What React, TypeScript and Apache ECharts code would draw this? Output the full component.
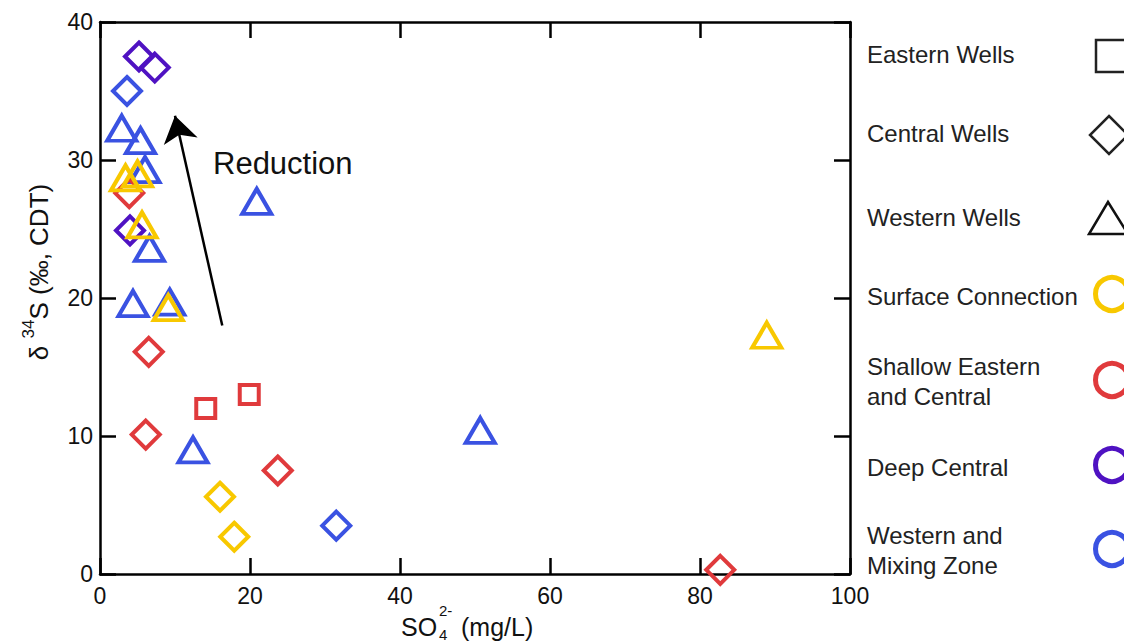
import React, { useEffect, useRef } from "react";
import * as echarts from "echarts";

// Axis setup
const xTicks = { min: 0, max: 100, interval: 20 };
const yTicks = { min: 0, max: 40, interval: 10 };

// Colours of groups
const colSurface = "#f8c800";
const colShallow = "#e03a3c";
const colDeep = "#4f12c2";
const colWestMix = "#3a52e2";

// Eastern wells (squares)
const eastShallow = [
  [14.1, 12.0],
  [19.9, 13.0],
];

// Central wells (diamonds)
const centralSurface = [
  [16.0, 5.6],
  [17.9, 2.7],
];
const centralShallow = [
  [3.9, 27.6],
  [6.5, 16.1],
  [6.1, 10.1],
  [23.7, 7.5],
  [82.7, 0.3],
];
const centralDeep = [
  [5.2, 37.5],
  [7.3, 36.7],
  [4.0, 24.9],
];
const centralWestMix = [
  [3.6, 35.0],
  [31.5, 3.5],
];

// Western wells (triangles)
const westernSurface = [
  [3.4, 28.7],
  [5.0, 29.0],
  [5.6, 25.3],
  [9.1, 19.3],
  [88.9, 17.3],
];
const westernWestMix = [
  [2.9, 32.3],
  [5.4, 31.4],
  [6.0, 29.3],
  [6.6, 23.6],
  [4.4, 19.6],
  [9.3, 19.7],
  [20.9, 27.0],
  [12.4, 9.0],
  [50.7, 10.4],
];

// Reduction arrow (tail -> head)
const arrowTail = [16.3, 18.0];
const arrowHead = [10.0, 33.2];

const shapeLegend = ["Eastern Wells", "Central Wells", "Western Wells"];
const colourLegend = [
  ["Surface Connection"],
  ["Shallow Eastern", "and Central"],
  ["Deep Central"],
  ["Western and", "Mixing Zone"],
];
const colourLegendColors = [colSurface, colShallow, colDeep, colWestMix];

const FONT = "Liberation Sans, Arial, Helvetica, sans-serif";

function scatter(
  name: string,
  data: number[][],
  symbol: string,
  size: number | number[],
  color: string
) {
  return {
    name,
    type: "scatter",
    data,
    symbol,
    symbolSize: size,
    clip: false,
    itemStyle: { color: "rgba(0,0,0,0)", borderColor: color, borderWidth: 4, opacity: 1 },
    emphasis: { disabled: true },
  };
}

export default function App() {
  const ref = useRef<HTMLDivElement>(null);
  useEffect(() => {
    const chart = echarts.init(ref.current!, null, { renderer: "svg" });
    const axisCommon = {
      axisLine: { show: true, onZero: false, lineStyle: { color: "#000", width: 2.5 } },
      axisTick: { show: true, inside: true, length: 16, lineStyle: { color: "#000", width: 2.5 } },
      splitLine: { show: false },
    };
    const shapeRowsY = [55, 134, 218];
    const colourRowsY = [294, 380, 465, 549];
    const graphics: any[] = [];
    shapeLegend.forEach((t, i) => {
      graphics.push({
        type: "text",
        left: 867,
        top: shapeRowsY[i] - 13,
        style: { text: t, font: `24px ${FONT}`, fill: "#222" },
      });
    });
    graphics.push({
      type: "rect",
      shape: { x: 1096, y: 40, width: 32, height: 32 },
      style: { fill: "none", stroke: "#222", lineWidth: 2.5 },
    });
    graphics.push({
      type: "polygon",
      shape: { points: [[1109, 116], [1128, 135], [1109, 154], [1090, 135]] },
      style: { fill: "none", stroke: "#222", lineWidth: 2.5 },
    });
    graphics.push({
      type: "polygon",
      shape: { points: [[1108, 202], [1128, 234], [1089, 234]] },
      style: { fill: "none", stroke: "#111", lineWidth: 2.5 },
    });
    colourLegend.forEach((lines, i) => {
      const cy = colourRowsY[i];
      graphics.push({
        type: "text",
        left: 867,
        top: cy - (lines.length === 1 ? 13 : 29),
        style: { text: lines.join("\n"), font: `24px ${FONT}`, fill: "#222", lineHeight: 30 },
      });
      graphics.push({
        type: "circle",
        shape: { cx: 1112, cy, r: 16.5 },
        style: { fill: "none", stroke: colourLegendColors[i], lineWidth: 5 },
      });
    });
    // Annotation
    graphics.push({
      type: "text",
      left: 213,
      top: 148,
      style: { text: "Reduction", font: `31px ${FONT}`, fill: "#111" },
    });
    // Y axis title
    graphics.push({
      type: "text",
      x: 36,
      y: 272,
      rotation: Math.PI / 2,
      style: {
        text: "{a|δ }{s|34}{a|S (‰, CDT)}",
        align: "center",
        verticalAlign: "middle",
        fill: "#111",
        rich: {
          a: { fontSize: 26, fontFamily: FONT, lineHeight: 32, verticalAlign: "bottom" },
          s: { fontSize: 17, fontFamily: FONT, lineHeight: 32, verticalAlign: "top" },
        },
      },
    });
    // X axis title
    graphics.push(
      { type: "text", left: 401, top: 614, style: { text: "SO", font: `25px ${FONT}`, fill: "#111" } },
      { type: "text", left: 439, top: 627, style: { text: "4", font: `15px ${FONT}`, fill: "#111" } },
      { type: "text", left: 439, top: 603, style: { text: "2-", font: `15px ${FONT}`, fill: "#111" } },
      { type: "text", left: 461, top: 614, style: { text: "(mg/L)", font: `25px ${FONT}`, fill: "#111" } }
    );

    const option = {
      animation: false,
      backgroundColor: "#fff",
      grid: { left: 100, top: 22, width: 750, height: 552, containLabel: false },
      xAxis: [
        {
          type: "value",
          position: "bottom",
          ...xTicks,
          ...axisCommon,
          axisLabel: { show: true, color: "#111", fontSize: 23, fontFamily: FONT, margin: 10 },
        },
        {
          type: "value",
          position: "top",
          ...xTicks,
          ...axisCommon,
          axisLabel: { show: false },
        },
      ],
      yAxis: [
        {
          type: "value",
          position: "left",
          ...yTicks,
          ...axisCommon,
          axisLabel: { show: true, color: "#111", fontSize: 23, fontFamily: FONT, margin: 7 },
        },
        {
          type: "value",
          position: "right",
          ...yTicks,
          ...axisCommon,
          axisLabel: { show: false },
        },
      ],
      graphic: graphics,
      series: [
        {
          type: "lines",
          coordinateSystem: "cartesian2d",
          symbol: ["none", "arrow"],
          symbolSize: 26,
          silent: true,
          lineStyle: { color: "#000", width: 2.5, opacity: 1 },
          itemStyle: { color: "#000" },
          data: [{ coords: [arrowTail, arrowHead] }],
        },
        scatter("Western Wells / Western and Mixing Zone", westernWestMix, "triangle", [29, 25], colWestMix),
        scatter("Central Wells / Western and Mixing Zone", centralWestMix, "diamond", [28, 28], colWestMix),
        scatter("Central Wells / Shallow Eastern and Central", centralShallow, "diamond", [28, 28], colShallow),
        scatter("Eastern Wells / Shallow Eastern and Central", eastShallow, "rect", [19, 19], colShallow),
        scatter("Central Wells / Deep Central", centralDeep, "diamond", [28, 28], colDeep),
        scatter("Central Wells / Surface Connection", centralSurface, "diamond", [28, 28], colSurface),
        scatter("Western Wells / Surface Connection", westernSurface, "triangle", [29, 25], colSurface),
      ],
    };
    chart.setOption(option as any);
    return () => chart.dispose();
  }, []);
  return (
    <div
      ref={ref}
      style={{ position: "absolute", left: 0, top: 0, width: 1124, height: 642 }}
    />
  );
}
